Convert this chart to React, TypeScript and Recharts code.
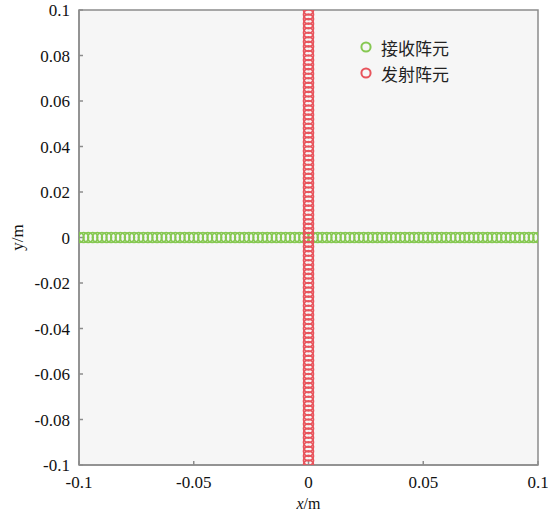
import { ScatterChart, Scatter, XAxis, YAxis, ReferenceArea } from 'recharts';

// element positions along each array (m)
const elementPositions = [
  -0.1, -0.098, -0.096, -0.094, -0.092, -0.09, -0.088, -0.086, -0.084, -0.082,
  -0.08, -0.078, -0.076, -0.074, -0.072, -0.07, -0.068, -0.066, -0.064, -0.062,
  -0.06, -0.058, -0.056, -0.054, -0.052, -0.05, -0.048, -0.046, -0.044, -0.042,
  -0.04, -0.038, -0.036, -0.034, -0.032, -0.03, -0.028, -0.026, -0.024, -0.022,
  -0.02, -0.018, -0.016, -0.014, -0.012, -0.01, -0.008, -0.006, -0.004, -0.002,
  0,
  0.002, 0.004, 0.006, 0.008, 0.01, 0.012, 0.014, 0.016, 0.018, 0.02,
  0.022, 0.024, 0.026, 0.028, 0.03, 0.032, 0.034, 0.036, 0.038, 0.04,
  0.042, 0.044, 0.046, 0.048, 0.05, 0.052, 0.054, 0.056, 0.058, 0.06,
  0.062, 0.064, 0.066, 0.068, 0.07, 0.072, 0.074, 0.076, 0.078, 0.08,
  0.082, 0.084, 0.086, 0.088, 0.09, 0.092, 0.094, 0.096, 0.098, 0.1,
];

const seriesNames = ['接收阵元', '发射阵元'];
const xTicks = [-0.1, -0.05, 0, 0.05, 0.1];
const yTicks = [-0.1, -0.08, -0.06, -0.04, -0.02, 0, 0.02, 0.04, 0.06, 0.08, 0.1];

const receiveData = elementPositions.map((p) => ({ x: p, y: 0 }));
const transmitData = elementPositions.map((p) => ({ x: 0, y: p }));

const GREEN = '#86c852';
const RED = '#e8545c';
const FONT = '"Liberation Serif", "Times New Roman", serif';

const ring = (color: string) => (props: any) => (
  <circle cx={props.cx} cy={props.cy} r={5} fill="none" stroke={color} strokeWidth={1.7} />
);

// ticks drawn by hand so the serif font actually sticks
const renderXTick = (props: any) => (
  <text key={props.index} x={props.x} y={480} dy={8} textAnchor="middle" fontSize={17} fontFamily={FONT} fill="#111">
    {String(props.payload.value)}
  </text>
);

const renderYTick = (props: any) => (
  <text key={props.index} x={70} y={props.y} dy={6} textAnchor="end" fontSize={17} fontFamily={FONT} fill="#111">
    {String(props.payload.value)}
  </text>
);

export default function App() {
  return (
    <div style={{ position: 'absolute', left: 0, top: 0, background: '#fff', fontFamily: FONT }}>
      <ScatterChart width={548} height={515} margin={{ top: 10, right: 10, bottom: 0, left: 0 }}>
        <ReferenceArea x1={-0.1} x2={0.1} y1={-0.1} y2={0.1} fill="#f6f6f6" fillOpacity={1} stroke="#8c8c8c" strokeWidth={1.5} />
        <XAxis
          type="number"
          dataKey="x"
          domain={[-0.1, 0.1]}
          ticks={xTicks}
          allowDataOverflow
          height={50}
          tickSize={-4}
          tickMargin={14}
          stroke="#8c8c8c"
          strokeWidth={1.5}
          tick={renderXTick}
          label={(p: any) => {
            const vb = p.viewBox;
            return (
              <text x={vb.x + vb.width / 2} y={509} textAnchor="middle" fontSize={16} fontFamily={FONT} fill="#111">
                <tspan fontStyle="italic">x</tspan>/m
              </text>
            );
          }}
        />
        <YAxis
          type="number"
          dataKey="y"
          domain={[-0.1, 0.1]}
          ticks={yTicks}
          allowDataOverflow
          width={79}
          tickSize={-4}
          tickMargin={13}
          stroke="#8c8c8c"
          strokeWidth={1.5}
          tick={renderYTick}
          label={(p: any) => {
            const vb = p.viewBox;
            const cy = vb.y + vb.height / 2;
            return (
              <text x={23} y={cy} transform={`rotate(-90 23 ${cy})`} textAnchor="middle" fontSize={17} fontFamily={FONT} fill="#111">
                y/m
              </text>
            );
          }}
        />
        <Scatter name={seriesNames[0]} data={receiveData} shape={ring(GREEN)} isAnimationActive={false} />
        <Scatter name={seriesNames[1]} data={transmitData} shape={ring(RED)} isAnimationActive={false} />
      </ScatterChart>
      <div
        style={{
          position: 'absolute',
          left: 357,
          top: 34,
          fontFamily: '"Noto Sans CJK SC", sans-serif',
          fontSize: 17,
          color: '#222',
        }}
      >
        {[GREEN, RED].map((c, i) => (
          <div key={i} style={{ display: 'flex', alignItems: 'center', height: 26 }}>
            <svg width={18} height={18} style={{ marginRight: 6 }}>
              <circle cx={9} cy={9} r={4.6} fill="none" stroke={c} strokeWidth={2} />
            </svg>
            {seriesNames[i]}
          </div>
        ))}
      </div>
    </div>
  );
}
